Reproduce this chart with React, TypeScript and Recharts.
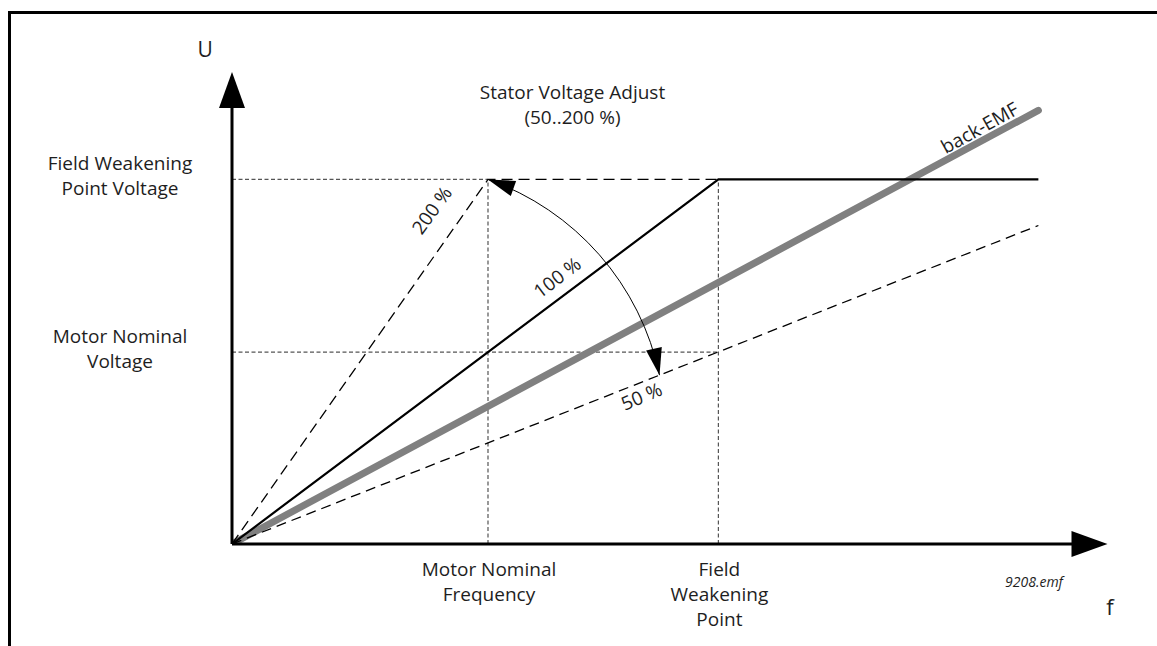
import { LineChart, Line, XAxis, YAxis, ReferenceLine, ReferenceDot } from "recharts"

// per-unit values (1 = motor nominal frequency / voltage)
const fAxisMax = 3.42
const uAxisMax = 2.46

// 100 % stator voltage curve (solid)
const f100 = [0, 1.9, 3.15]
const u100 = [0, 1.9, 1.9]
// 200 % curve (dashed)
const f200 = [0, 1.0, 1.9]
const u200 = [0, 1.9, 1.9]
// 50 % curve (dashed)
const f50 = [0, 3.15]
const u50 = [0, 1.66]
// back-EMF (thick grey)
const fEmf = [0, 3.15]
const uEmf = [0, 2.26]

const fTicks = [1.0, 1.9]
const fTickLabels = [["Motor Nominal", "Frequency"], ["Field", "Weakening", "Point"]]
const uTicks = [1.0, 1.9]
const uTickLabels = [["Motor Nominal", "Voltage"], ["Field Weakening", "Point Voltage"]]

// dotted guide segments: f1, u1, f2, u2
const guideF1 = [0, 0, 1.0, 1.9]
const guideU1 = [1.9, 1.0, 0, 0]
const guideF2 = [1.0, 1.9, 1.0, 1.9]
const guideU2 = [1.9, 1.0, 1.9, 1.9]

const FONT = "'Open Sans', sans-serif"
const INK = "#1e1e1e"

const rows = (fs: number[], us: number[]) => fs.map((f, i) => ({ f, u: us[i] }))

function FTick({ x, y, payload }: any) {
  const lines = fTickLabels[fTicks.indexOf(payload.value)] ?? []
  return (
    <text x={x} y={y} textAnchor="middle" fontSize={19} fill={INK} fontFamily={FONT}>
      {lines.map((t, k) => (
        <tspan key={k} x={x + 1} y={y + 32 + k * 25}>{t}</tspan>
      ))}
    </text>
  )
}

function UTick({ x, y, payload }: any) {
  const lines = uTickLabels[uTicks.indexOf(payload.value)] ?? []
  return (
    <text x={x} y={y} textAnchor="middle" fontSize={19} fill={INK} fontFamily={FONT}>
      {lines.map((t, k) => (
        <tspan key={k} x={x - 112} y={y - 9 + k * 25}>{t}</tspan>
      ))}
    </text>
  )
}

function head(tx: number, ty: number, vx: number, vy: number, len: number, w: number) {
  const bx = tx - vx * len
  const by = ty - vy * len
  const px = -vy * w / 2
  const py = vx * w / 2
  return `${tx},${ty} ${bx + px},${by + py} ${bx - px},${by - py}`
}

// axis with a filled arrow head at the far end
function AxisArrow(props: any) {
  const { x1, y1, x2, y2 } = props
  const d = Math.hypot(x2 - x1, y2 - y1)
  const vx = (x2 - x1) / d
  const vy = (y2 - y1) / d
  return (
    <g>
      <line x1={x1} y1={y1} x2={x2 - vx * 30} y2={y2 - vy * 30} stroke="#000" strokeWidth={3} />
      <polygon points={head(x2, y2, vx, vy, 36, 26)} fill="#000" />
    </g>
  )
}

// curved double arrow for the stator voltage adjust range
function AdjustArc(props: any) {
  const { x1, y1, x2, y2 } = props
  const dx = x2 - x1
  const dy = y2 - y1
  const d = Math.hypot(dx, dy)
  const r = d * 1.02
  const ux = dx / d
  const uy = dy / d
  const h = Math.sqrt(r * r - (d * d) / 4)
  const cx = (x1 + x2) / 2 - h * uy
  const cy = (y1 + y2) / 2 + h * ux
  const tA = [-(y1 - cy) / r, (x1 - cx) / r]
  const tC = [-(y2 - cy) / r, (x2 - cx) / r]
  return (
    <g>
      <path d={`M ${x1} ${y1} A ${r} ${r} 0 0 1 ${x2} ${y2}`} fill="none" stroke="#000" strokeWidth={1} />
      <polygon points={head(x1, y1, -tA[0], -tA[1], 27, 16)} fill="#000" />
      <polygon points={head(x2, y2, tC[0], tC[1], 27, 16)} fill="#000" />
    </g>
  )
}

const textAt = (text: string, size: number, angle = 0, anchor = "middle", italic = false) => (props: any) => {
  const { cx, cy } = props
  return (
    <text
      x={cx}
      y={cy}
      textAnchor={anchor}
      dominantBaseline={angle ? "central" : "auto"}
      transform={angle ? `rotate(${angle} ${cx} ${cy})` : undefined}
      fontSize={size}
      fontStyle={italic ? "italic" : "normal"}
      fill={INK}
      fontFamily={FONT}
    >
      {text}
    </text>
  )
}

export default function App() {
  return (
    <div style={{ position: "absolute", left: 0, top: 0, width: 1157, height: 646, background: "#fff" }}>
      <div
        style={{
          position: "absolute",
          left: 8,
          top: 11,
          width: 1149,
          height: 635,
          borderTop: "3px solid #000",
          borderLeft: "3px solid #000",
          boxSizing: "border-box",
        }}
      />
      <div style={{ position: "absolute", left: 0, top: 0 }}>
        <LineChart width={1157} height={646} margin={{ top: 72, right: 49.5, bottom: 42, left: 32 }}>
          <XAxis
            type="number"
            dataKey="f"
            domain={[0, fAxisMax]}
            ticks={fTicks}
            interval={0}
            tick={<FTick />}
            tickLine={false}
            axisLine={false}
            tickSize={0}
            tickMargin={0}
            height={60}
            allowDataOverflow
          />
          <YAxis
            type="number"
            dataKey="u"
            domain={[0, uAxisMax]}
            ticks={uTicks}
            interval={0}
            tick={<UTick />}
            tickLine={false}
            axisLine={false}
            tickSize={0}
            tickMargin={0}
            width={200}
            allowDataOverflow
          />

          {guideF1.map((f, i) => (
            <ReferenceLine
              key={`g${i}`}
              segment={[{ x: f, y: guideU1[i] }, { x: guideF2[i], y: guideU2[i] }]}
              stroke="#555"
              strokeWidth={1.2}
              strokeDasharray="4 2.5"
              ifOverflow="visible"
            />
          ))}

          <Line data={rows(fEmf, uEmf)} dataKey="u" type="linear" stroke="#808080" strokeWidth={7} strokeLinecap="round" dot={false} activeDot={false} isAnimationActive={false} />
          <Line data={rows(f50, u50)} dataKey="u" type="linear" stroke="#000" strokeWidth={1.3} strokeDasharray="10 6" dot={false} activeDot={false} isAnimationActive={false} />
          <Line data={rows(f200, u200)} dataKey="u" type="linear" stroke="#000" strokeWidth={1.3} strokeDasharray="11 6" dot={false} activeDot={false} isAnimationActive={false} />
          <Line data={rows(f100, u100)} dataKey="u" type="linear" stroke="#000" strokeWidth={2.2} dot={false} activeDot={false} isAnimationActive={false} />

          <ReferenceLine segment={[{ x: 0, y: 0 }, { x: fAxisMax, y: 0 }]} shape={AxisArrow} ifOverflow="visible" />
          <ReferenceLine segment={[{ x: 0, y: 0 }, { x: 0, y: uAxisMax }]} shape={AxisArrow} ifOverflow="visible" />
          <ReferenceLine segment={[{ x: 1.0, y: 1.9 }, { x: 1.67, y: 0.88 }]} shape={AdjustArc} ifOverflow="visible" />

          <ReferenceDot x={0.78} y={1.74} ifOverflow="visible" shape={textAt("200 %", 19, -54)} />
          <ReferenceDot x={1.27} y={1.39} ifOverflow="visible" shape={textAt("100 %", 19, -37)} />
          <ReferenceDot x={1.6} y={0.77} ifOverflow="visible" shape={textAt("50 %", 19, -23)} />
          <ReferenceDot x={2.92} y={2.17} ifOverflow="visible" shape={textAt("back-EMF", 19, -29)} />
          <ReferenceDot x={1.33} y={2.32} ifOverflow="visible" shape={textAt("Stator Voltage Adjust", 19)} />
          <ReferenceDot x={1.33} y={2.19} ifOverflow="visible" shape={textAt("(50..200 %)", 19)} />
          <ReferenceDot x={-0.105} y={2.54} ifOverflow="visible" shape={textAt("U", 21)} />
          <ReferenceDot x={3.43} y={-0.37} ifOverflow="visible" shape={textAt("f", 22)} />
          <ReferenceDot x={3.246} y={-0.224} ifOverflow="visible" shape={textAt("9208.emf", 14, 0, "end", true)} />
        </LineChart>
      </div>
    </div>
  )
}
